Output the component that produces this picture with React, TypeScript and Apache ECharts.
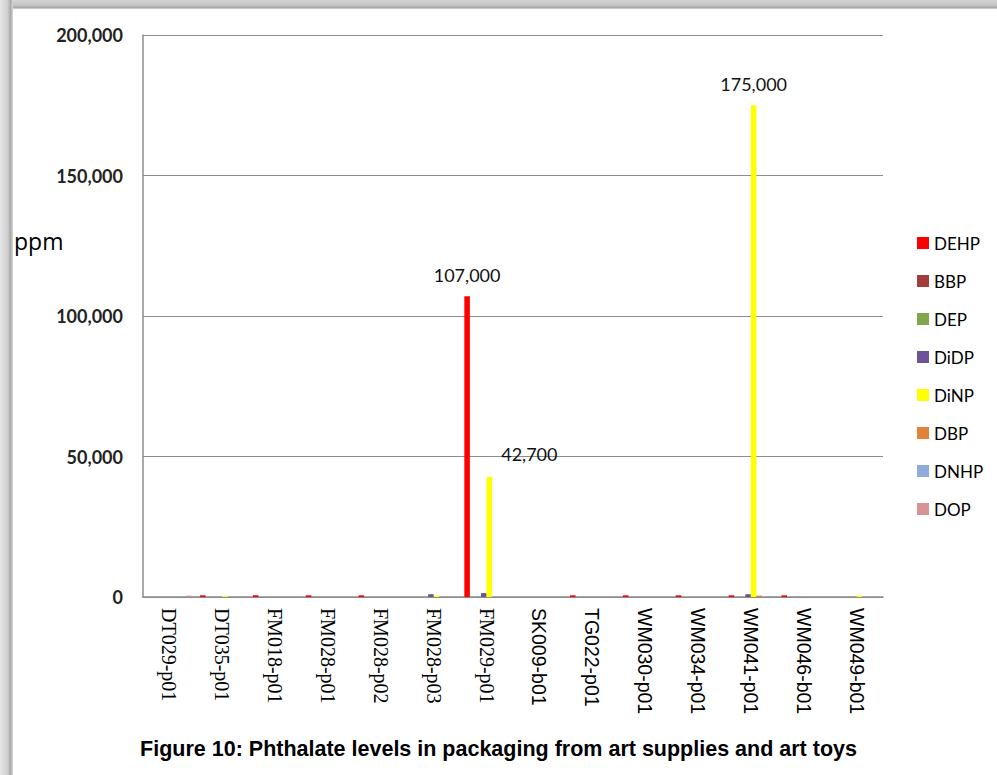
import React, { useEffect, useRef } from "react";
import * as echarts from "echarts";

const categories = [
  "DT029-p01", "DT035-p01", "FM018-p01", "FM028-p01", "FM028-p02", "FM028-p03", "FM029-p01",
  "SK009-b01", "TG022-p01", "WM030-p01", "WM034-p01", "WM041-p01", "WM046-b01", "WM049-b01",
];
const serifLabels = [true, true, true, true, true, true, true, false, false, false, false, false, false, false];

const seriesNames = ["DEHP", "BBP", "DEP", "DiDP", "DiNP", "DBP", "DNHP", "DOP"];
const seriesColors = ["#FF0000", "#A33C3C", "#82A64C", "#6C5499", "#FFFF00", "#E3823A", "#90AADB", "#D69494"];

const DEHP = [0, 600, 600, 600, 600, 0, 107000, 0, 600, 600, 600, 600, 600, 0];
const BBP = [0, 0, 0, 0, 0, 0, 0, 0, 0, 0, 0, 0, 0, 0];
const DEP = [0, 0, 0, 0, 0, 0, 0, 0, 0, 0, 0, 0, 0, 0];
const DiDP = [0, 0, 0, 0, 0, 1000, 1400, 0, 0, 0, 0, 1000, 0, 0];
const DiNP = [0, 400, 0, 0, 0, 500, 42700, 0, 0, 0, 0, 175000, 0, 500];
const DBP = [0, 0, 0, 0, 0, 0, 0, 0, 0, 0, 0, 500, 0, 0];
const DNHP = [0, 0, 0, 0, 0, 0, 0, 0, 0, 0, 0, 0, 0, 0];
const DOP = [500, 0, 0, 0, 0, 0, 0, 0, 0, 0, 0, 0, 0, 0];

const seriesValues = [DEHP, BBP, DEP, DiDP, DiNP, DBP, DNHP, DOP];

const labeled: Record<number, Record<number, number[]>> = {
  0: { 6: [0, -4] },
  4: { 6: [40, -6], 11: [0, -4] },
};

const yTicks = [0, 50000, 100000, 150000, 200000];

export default function App() {
  const ref = useRef<HTMLDivElement>(null);
  useEffect(() => {
    if (!ref.current) return;
    const chart = echarts.init(ref.current, null, { renderer: "svg" });
    const fmt = (v: number) => v.toLocaleString("en-US");
    const series = seriesNames.map((name, si) => ({
      name,
      type: "bar",
      barGap: "0%",
      barCategoryGap: "15.8%",
      itemStyle: { color: seriesColors[si] },
      data: seriesValues[si].map((v, ci) => {
        const lab = labeled[si] && labeled[si][ci];
        if (lab) {
          return {
            value: v,
            label: {
              show: true,
              position: "top",
              distance: 8,
              offset: lab,
              formatter: () => fmt(v),
              fontFamily: "Lato",
              fontSize: 18,
              color: "#111",
            },
          };
        }
        return v;
      }),
    }));
    chart.setOption({
      animation: false,
      backgroundColor: "#ffffff",
      grid: { left: 143, right: 114, top: 35, bottom: 178, containLabel: false },
      legend: {
        orient: "vertical",
        left: 912,
        top: 228,
        icon: "rect",
        itemWidth: 12,
        itemHeight: 12,
        itemGap: 18,
        textStyle: { fontFamily: "Lato", fontSize: 17, color: "#000", lineHeight: 20 },
        data: seriesNames,
      },
      xAxis: {
        type: "category",
        data: categories,
        axisLine: { lineStyle: { color: "#8c8c8c", width: 1.5 } },
        axisTick: { show: false },
        axisLabel: {
          rotate: -90,
          margin: 11,
          interval: 0,
          formatter: (v: string, i: number) => (serifLabels[i] ? `{s|${v}}` : `{a|${v}}`),
          rich: {
            s: { fontFamily: "Liberation Serif", fontSize: 20, color: "#000" },
            a: { fontFamily: "Liberation Sans", fontSize: 19.5, color: "#000" },
          },
        },
      },
      yAxis: {
        type: "value",
        min: 0,
        max: 200000,
        interval: 50000,
        axisLine: { show: true, lineStyle: { color: "#8c8c8c", width: 1.5 } },
        axisTick: { show: false },
        splitLine: { lineStyle: { color: "#8c8c8c", width: 1.2 } },
        axisLabel: {
          margin: 20,
          fontFamily: "Lato",
          fontSize: 18,
          fontWeight: "bold",
          color: "#222",
          customValues: yTicks,
          formatter: (v: number) => fmt(v),
        },
      },
      graphic: [
        {
          type: "rect",
          shape: { x: 0, y: 0, width: 13, height: 775 },
          style: {
            fill: new echarts.graphic.LinearGradient(0, 0, 1, 0, [
              { offset: 0, color: "#e6e6e6" },
              { offset: 0.6, color: "#cfcfcf" },
              { offset: 0.8, color: "#a9a9a9" },
              { offset: 1, color: "#d8d8d8" },
            ]),
          },
          silent: true,
        },
        {
          type: "rect",
          shape: { x: 13, y: 0, width: 984, height: 9 },
          style: {
            fill: new echarts.graphic.LinearGradient(0, 0, 0, 1, [
              { offset: 0, color: "#d4d4d4" },
              { offset: 0.6, color: "#c4c4c4" },
              { offset: 0.85, color: "#a6a6a6" },
              { offset: 1, color: "#dcdcdc" },
            ]),
          },
          silent: true,
        },
        {
          type: "text",
          left: 14,
          top: 229,
          style: { text: "ppm", fontFamily: "Open Sans", fontSize: 23, fill: "#000" },
        },
        {
          type: "text",
          left: "center",
          top: 738,
          style: {
            text: "Figure 10: Phthalate levels in packaging from art supplies and art toys",
            fontFamily: "Liberation Sans",
            fontWeight: "bold",
            fontSize: 21.5,
            fill: "#000",
          },
        },
      ],
      series,
    });
    return () => chart.dispose();
  }, []);
  return (
    <div
      ref={ref}
      style={{ position: "absolute", left: 0, top: 0, width: 997, height: 775 }}
    />
  );
}
